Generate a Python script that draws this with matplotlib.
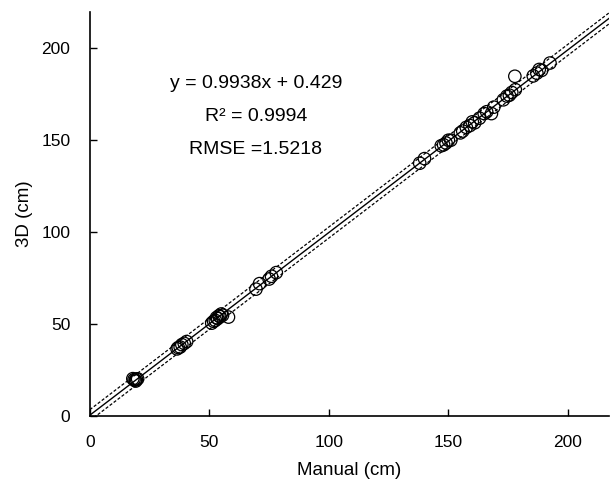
import matplotlib
matplotlib.use("Agg")
import matplotlib.pyplot as plt
import numpy as np

plt.rcParams['font.family'] = ['Liberation Sans', 'DejaVu Sans']

manual = [18.0, 18.5, 19.0, 19.5, 20.0, 19.2,
          36.5, 37.0, 37.8, 38.5, 39.5, 40.5,
          51.0, 51.8, 52.5, 53.0, 53.5, 54.0, 54.5, 55.0, 55.5, 58.0,
          69.5, 71.0, 75.0, 76.0, 78.0,
          138.0, 140.0,
          147.0, 148.0, 149.0, 150.0, 151.0,
          155.0, 156.0, 157.5, 159.0, 160.0, 161.0,
          163.0, 165.0, 166.0, 168.0, 169.0,
          173.0, 174.5, 175.5, 176.5, 178.0, 177.8,
          185.5, 187.0, 188.0, 189.0, 192.5]
threed = [20.3, 19.8, 19.5, 20.0, 20.2, 19.0,
          36.5, 37.2, 37.5, 38.8, 39.5, 40.5,
          50.5, 51.5, 52.0, 53.5, 53.0, 54.5, 54.0, 55.5, 54.8, 53.8,
          69.0, 72.0, 74.5, 76.0, 78.0,
          137.5, 140.0,
          147.0, 147.5, 148.5, 150.0, 150.0,
          154.0, 155.0, 157.0, 158.0, 160.0, 159.5,
          162.0, 164.5, 165.5, 164.5, 168.0,
          172.0, 174.0, 174.5, 176.0, 177.5, 184.8,
          185.0, 186.5, 188.5, 188.0, 192.0]

slope = 0.9938
intercept = 0.429
pi_half = 3.0
eq_lines = ["y = 0.9938x + 0.429", "R² = 0.9994", "RMSE =1.5218"]

fig = plt.figure(figsize=(6.11, 4.92), dpi=100)
ax = fig.add_axes([0.147, 0.1545, 0.849, 0.822])

xs = np.array([0, 230])
ax.plot(xs, slope * xs + intercept, color='black', lw=1.0, zorder=2)
ax.plot(xs, slope * xs + intercept + pi_half, color='black', lw=0.9, ls=(0, (2.5, 1.5)), zorder=2)
ax.plot(xs, slope * xs + intercept - pi_half, color='black', lw=0.9, ls=(0, (2.5, 1.5)), zorder=2)

ax.scatter(manual, threed, s=80, facecolors='none', edgecolors='black', linewidths=0.9, zorder=3)

ax.set_xlim(0, 217)
ax.set_ylim(0, 220)
ax.set_xticks([0, 50, 100, 150, 200])
ax.set_yticks([0, 50, 100, 150, 200])
ax.tick_params(direction='in', length=5, width=1, labelsize=12.5)
ax.tick_params(axis='y', pad=14)
ax.tick_params(axis='x', pad=14)
for s in ['top', 'right']:
    ax.spines[s].set_visible(False)
for s in ['left', 'bottom']:
    ax.spines[s].set_linewidth(1.2)

ax.set_xlabel("Manual (cm)", fontsize=13.5, labelpad=8)
ax.set_ylabel("3D (cm)", fontsize=13.5, labelpad=6)

for i, t in enumerate(eq_lines):
    ax.text(0.32, 0.822 - i * 0.0815, t, transform=ax.transAxes, ha='center', va='center', fontsize=14)

fig.savefig("out.png", dpi=100)
